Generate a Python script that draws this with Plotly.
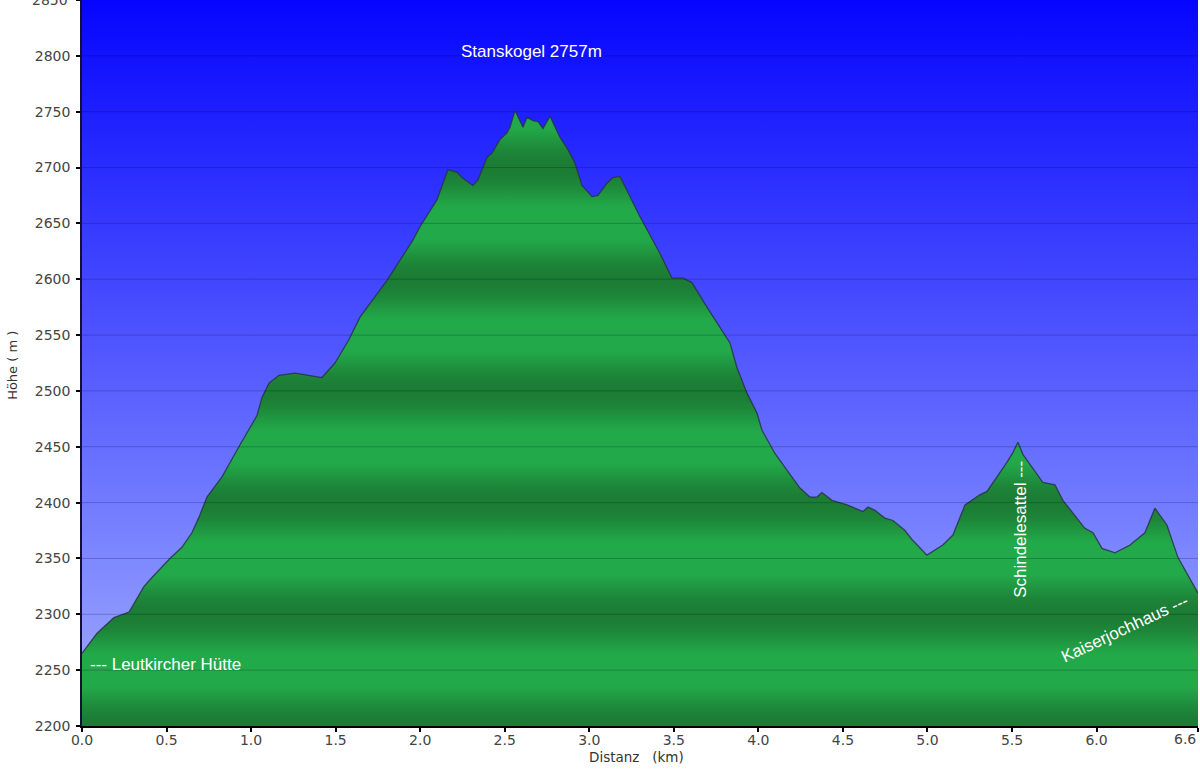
import math
import plotly.graph_objects as go

# ---------------- data ----------------
DIST_KM = [0.00, 0.089, 0.189, 0.278, 0.367, 0.414, 0.520, 0.591, 0.650, 0.692,
           0.739, 0.828, 0.928, 0.988, 1.035, 1.064, 1.106, 1.165, 1.260, 1.419,
           1.496, 1.579, 1.644, 1.804, 1.957, 1.999, 2.099, 2.164, 2.218, 2.247,
           2.312, 2.342, 2.395, 2.425, 2.472, 2.513, 2.531, 2.561, 2.608, 2.632,
           2.667, 2.697, 2.726, 2.768, 2.827, 2.874, 2.915, 2.957, 3.016, 3.051,
           3.105, 3.140, 3.182, 3.300, 3.418, 3.489, 3.554, 3.607, 3.696, 3.832,
           3.873, 3.933, 3.992, 4.021, 4.098, 4.169, 4.246, 4.305, 4.347, 4.376,
           4.435, 4.524, 4.619, 4.648, 4.690, 4.749, 4.796, 4.867, 4.908, 4.997,
           5.091, 5.151, 5.222, 5.310, 5.352, 5.470, 5.506, 5.535, 5.565, 5.683,
           5.754, 5.801, 5.931, 5.979, 6.032, 6.109, 6.198, 6.286, 6.345, 6.416,
           6.481, 6.600]
ELEV_M = [2265, 2283, 2297, 2302, 2325, 2333, 2350, 2360, 2373, 2387,
          2405, 2423, 2450, 2465, 2478, 2494, 2507, 2514, 2516, 2512,
          2525, 2546, 2566, 2599, 2635, 2647, 2671, 2698, 2696, 2691,
          2684, 2689, 2709, 2713, 2725, 2731, 2736, 2751, 2736, 2745,
          2742, 2741, 2735, 2746, 2727, 2716, 2704, 2684, 2674, 2675,
          2686, 2691, 2692, 2656, 2623, 2601, 2601, 2597, 2575, 2543,
          2521, 2498, 2480, 2465, 2444, 2429, 2413, 2405, 2405, 2409,
          2402, 2398, 2392, 2396, 2393, 2386, 2384, 2375, 2367, 2353,
          2362, 2371, 2398, 2407, 2410, 2436, 2445, 2454, 2443, 2418,
          2416, 2402, 2377, 2373, 2359, 2355, 2362, 2373, 2395, 2380,
          2351, 2319]

X_TICKS = [0.0, 0.5, 1.0, 1.5, 2.0, 2.5, 3.0, 3.5, 4.0, 4.5, 5.0, 5.5, 6.0, 6.6]
X_TICK_TEXT = ["0.0", "0.5", "1.0", "1.5", "2.0", "2.5", "3.0", "3.5", "4.0",
               "4.5", "5.0", "5.5", "6.0", "6.6"]
Y_TICKS = list(range(2200, 2851, 50))

LABELS = [
    ("Stanskogel 2757m", 2.66, 2804, 0, "center"),
    ("--- Leutkircher Hütte", 0.035, 2255, 0, "left"),
    ("Schindelesattel ---", 5.55, 2376, -90, "center"),
    ("Kaiserjochhaus ---", 6.17, 2287, -25, "center"),
]

X_TITLE = "Distanz\u00a0\u00a0\u00a0(km)"
Y_TITLE = "Höhe\u00a0(\u00a0m\u00a0)"

X_MIN, X_MAX = 0.0, 6.6
Y_MIN, Y_MAX = 2200, 2850

# ---------------- styles ----------------
dark = (28, 124, 52)
light = (34, 170, 74)
green_scale = []
span = Y_MAX - Y_MIN
for v in range(Y_MIN, Y_MAX + 1, 5):
    phase = ((v - Y_MIN) % 100) / 100.0
    w = (1 - math.cos(2 * math.pi * phase)) / 2
    w = min(1.0, w * 1.2)
    c = tuple(int(round(dark[i] + (light[i] - dark[i]) * w)) for i in range(3))
    green_scale.append([(v - Y_MIN) / span, "rgb(%d,%d,%d)" % c])

sky_scale = [[0.0, "rgb(162,175,255)"], [1.0, "rgb(5,5,255)"]]
TICK_FONT = dict(family="DejaVu Sans", size=14, color="#444444")

fig = go.Figure()

# sky background
fig.add_trace(go.Scatter(
    x=[X_MIN, X_MAX, X_MAX, X_MIN, X_MIN],
    y=[Y_MAX, Y_MAX, Y_MIN, Y_MIN, Y_MAX],
    mode="lines", line=dict(width=0), fill="toself",
    fillgradient=dict(type="vertical", colorscale=sky_scale, start=Y_MIN, stop=Y_MAX),
    hoverinfo="skip", showlegend=False,
))

# elevation profile
fig.add_trace(go.Scatter(
    x=DIST_KM, y=ELEV_M, mode="lines",
    line=dict(color="rgba(40,50,70,0.85)", width=1.3),
    fill="tozeroy",
    fillgradient=dict(type="vertical", colorscale=green_scale, start=Y_MIN, stop=Y_MAX),
    showlegend=False,
))

shapes = []
for yv in Y_TICKS[1:-1]:
    shapes.append(dict(type="line", xref="paper", yref="y", x0=0, x1=1, y0=yv, y1=yv,
                       line=dict(color="rgba(0,0,30,0.22)", width=1), layer="above"))

annotations = []
for text, xv, yv, ang, anchor in LABELS:
    annotations.append(dict(x=xv, y=yv, xref="x", yref="y", text=text, showarrow=False,
                            textangle=ang, xanchor=anchor, yanchor="middle",
                            font=dict(family="Liberation Sans, Arial", size=17, color="white")))
annotations.append(dict(x=0.497, y=-0.043, xref="paper", yref="paper", text=X_TITLE,
                        showarrow=False, xanchor="center", yanchor="middle",
                        font=dict(family="DejaVu Sans", size=13.5, color="#333333")))
annotations.append(dict(x=-0.063, y=0.497, xref="paper", yref="paper", text=Y_TITLE,
                        showarrow=False, textangle=-90, xanchor="center", yanchor="middle",
                        font=dict(family="DejaVu Sans", size=13, color="#333333")))
# edge tick labels that the axis would drop (last x tick, top y tick)
annotations.append(dict(x=X_TICKS[-1], y=-0.0185, xref="x", yref="paper", text=X_TICK_TEXT[-1],
                        showarrow=False, xanchor="right", yanchor="middle", font=TICK_FONT))
annotations.append(dict(x=-0.0105, y=Y_TICKS[-1], xref="paper", yref="y", text=str(Y_TICKS[-1]),
                        showarrow=False, xanchor="right", yanchor="middle", font=TICK_FONT))

x_tick_text_axis = X_TICK_TEXT[:-1] + [""]

fig.update_layout(
    width=1200, height=774,
    margin=dict(l=82, r=2, t=0, b=48),
    paper_bgcolor="white", plot_bgcolor="white",
    shapes=shapes, annotations=annotations,
    xaxis=dict(range=[X_MIN, X_MAX], tickvals=X_TICKS, ticktext=x_tick_text_axis,
               showgrid=False, zeroline=False, showline=True, linecolor="black", linewidth=2,
               ticks="outside", ticklen=4, tickcolor="black", tickwidth=2,
               tickfont=TICK_FONT, ticklabelstandoff=-4,
               layer="above traces"),
    yaxis=dict(range=[Y_MIN, Y_MAX], tickvals=Y_TICKS,
               showgrid=False, zeroline=False, showline=True, linecolor="#111133", linewidth=1.5,
               ticks="outside", ticklen=4, tickcolor="black", tickwidth=2,
               tickfont=TICK_FONT, ticklabelstandoff=3,
               layer="above traces"),
)

fig.write_html(
    "out.html",
    config={"displayModeBar": False},
    post_script="document.body.style.margin='0';document.body.style.padding='0';"
                "document.body.style.overflow='hidden';",
)
